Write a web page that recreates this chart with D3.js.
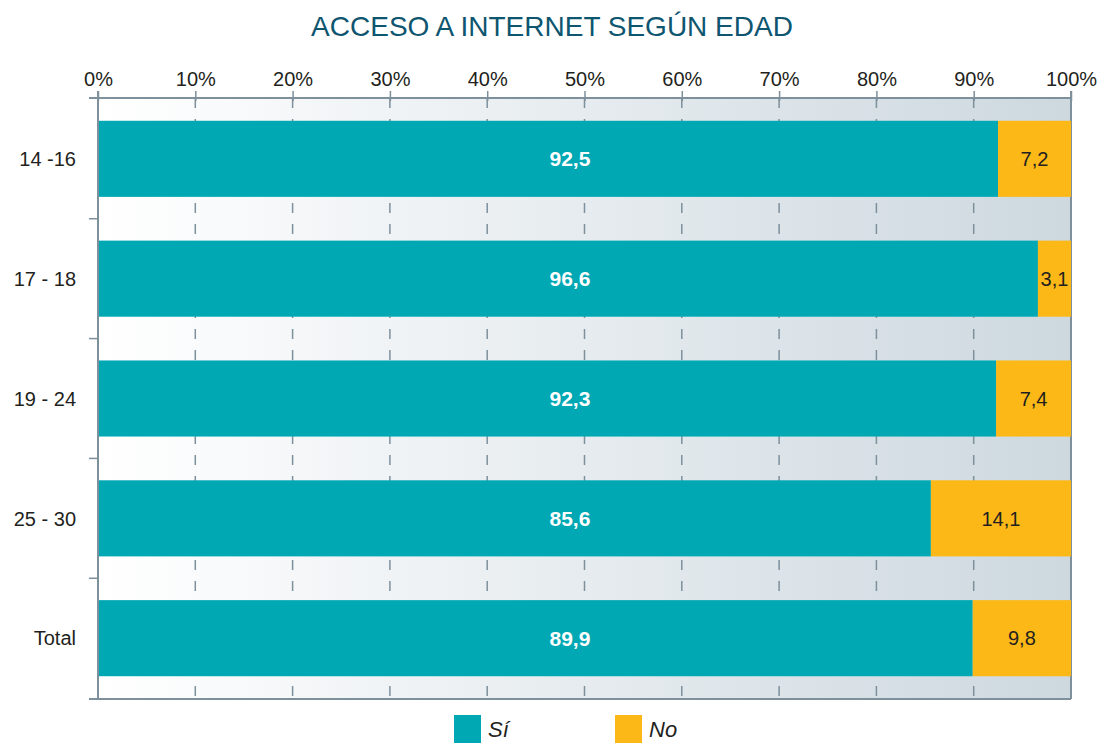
<!DOCTYPE html>
<html>
<head>
<meta charset="utf-8">
<script src="https://cdn.jsdelivr.net/npm/d3@7"></script>
<style>
  html, body { margin: 0; padding: 0; background: #fff; }
  svg text { font-family: "Liberation Sans", Arial, sans-serif; }
</style>
</head>
<body>
<div id="chart"></div>
<script>
// Chart data
const categories = ['14 -16', '17 - 18', '19 - 24', '25 - 30', 'Total'];
const siValues = [92.5, 96.6, 92.3, 85.6, 89.9];
const noValues = [7.2, 3.1, 7.4, 14.1, 9.8];
const tickValues = [0, 10, 20, 30, 40, 50, 60, 70, 80, 90, 100];
const seriesNames = ['Sí', 'No'];

const colors = { si: '#00a8b4', no: '#fbb817', axis: '#7e909c', title: '#0e5670', text: '#231f20' };

const width = 1099, height = 743;
const margin = { top: 98, right: 28, bottom: 44, left: 98 };

const svg = d3.select('#chart').append('svg')
    .attr('width', width)
    .attr('height', height);

// Background gradient behind the plot
const defs = svg.append('defs');
const grad = defs.append('linearGradient')
    .attr('id', 'bg-grad')
    .attr('x1', '0%').attr('x2', '100%')
    .attr('y1', '0%').attr('y2', '0%');
grad.append('stop').attr('offset', '0%').attr('stop-color', '#ffffff');
grad.append('stop').attr('offset', '100%').attr('stop-color', '#cdd8df');

const x = d3.scaleLinear()
    .domain([0, 100])
    .range([margin.left, width - margin.right]);

const y = d3.scaleBand()
    .domain(categories)
    .range([margin.top, height - margin.bottom])
    .paddingInner(0.365)
    .paddingOuter(0.19);

svg.append('rect')
    .attr('x', x(0))
    .attr('y', margin.top)
    .attr('width', x(100) - x(0))
    .attr('height', height - margin.bottom - margin.top)
    .attr('fill', 'url(#bg-grad)');

// Title
svg.append('text')
    .attr('x', 552)
    .attr('y', 36)
    .attr('text-anchor', 'middle')
    .attr('fill', colors.title)
    .style('font-size', '28px')
    .text('ACCESO A INTERNET SEGÚN EDAD');

// Dashed gridlines
svg.append('g')
    .selectAll('line')
    .data(tickValues.slice(1, -1))
    .join('line')
    .attr('x1', d => x(d)).attr('x2', d => x(d))
    .attr('y1', margin.top)
    .attr('y2', height - margin.bottom)
    .attr('stroke', colors.axis)
    .attr('stroke-width', 1.5)
    .attr('stroke-dasharray', '10,11');

// Top axis
const xAxis = svg.append('g')
    .attr('transform', `translate(0,${margin.top})`)
    .call(d3.axisTop(x)
        .tickValues(tickValues)
        .tickFormat(d => d + '%')
        .tickSize(7)
        .tickSizeOuter(0));
xAxis.select('.domain').remove();
xAxis.selectAll('.tick line')
    .attr('stroke', colors.axis)
    .attr('stroke-width', 1.5)
    .attr('y2', 3)
    .attr('y1', -7);
xAxis.selectAll('.tick text')
    .attr('fill', colors.text)
    .attr('y', -12)
    .style('font-size', '20px')
    .style('font-family', '"Liberation Sans", Arial, sans-serif');

// Horizontal axis lines (top and bottom)
[margin.top, height - margin.bottom].forEach(yy => {
    svg.append('line')
        .attr('x1', x(0) - 9).attr('x2', x(100))
        .attr('y1', yy).attr('y2', yy)
        .attr('stroke', colors.axis)
        .attr('stroke-width', 2);
});

// Right border
svg.append('line')
    .attr('x1', x(100)).attr('x2', x(100))
    .attr('y1', margin.top - 7).attr('y2', height - margin.bottom)
    .attr('stroke', colors.axis)
    .attr('stroke-width', 2);

// Category ticks on the left, between bands
const boundaries = categories.slice(1).map(c => y(c) - y.step() * y.paddingInner() / 2);
svg.append('g')
    .selectAll('line')
    .data(boundaries)
    .join('line')
    .attr('x1', x(0) - 9).attr('x2', x(0))
    .attr('y1', d => d).attr('y2', d => d)
    .attr('stroke', colors.axis)
    .attr('stroke-width', 1.5);

// Bars
const rows = categories.map((c, i) => ({ cat: c, si: siValues[i], no: noValues[i] }));

const bars = svg.append('g')
    .selectAll('g')
    .data(rows)
    .join('g');

bars.append('rect')
    .attr('x', x(0))
    .attr('y', d => y(d.cat))
    .attr('width', d => x(d.si) - x(0))
    .attr('height', y.bandwidth())
    .attr('fill', colors.si);

bars.append('rect')
    .attr('x', d => x(d.si))
    .attr('y', d => y(d.cat))
    .attr('width', d => x(100) - x(d.si))
    .attr('height', y.bandwidth())
    .attr('fill', colors.no);

const fmt = v => v.toFixed(1).replace('.', ',');

bars.append('text')
    .attr('x', x(48.5))
    .attr('y', d => y(d.cat) + y.bandwidth() / 2)
    .attr('dy', '0.36em')
    .attr('text-anchor', 'middle')
    .attr('fill', '#fff')
    .style('font-size', '21px')
    .style('font-weight', 'bold')
    .text(d => fmt(d.si));

bars.append('text')
    .attr('x', d => (x(d.si) + x(100)) / 2)
    .attr('y', d => y(d.cat) + y.bandwidth() / 2)
    .attr('dy', '0.36em')
    .attr('text-anchor', 'middle')
    .attr('fill', colors.text)
    .style('font-size', '20px')
    .text(d => fmt(d.no));

// Left axis line
svg.append('line')
    .attr('x1', x(0)).attr('x2', x(0))
    .attr('y1', margin.top - 7).attr('y2', height - margin.bottom)
    .attr('stroke', colors.axis)
    .attr('stroke-width', 2);

// Category labels
svg.append('g')
    .selectAll('text')
    .data(categories)
    .join('text')
    .attr('x', 76)
    .attr('y', d => y(d) + y.bandwidth() / 2)
    .attr('dy', '0.36em')
    .attr('text-anchor', 'end')
    .attr('fill', colors.text)
    .style('font-size', '20px')
    .text(d => d);

// Legend
const legend = svg.append('g')
    .selectAll('g')
    .data(seriesNames)
    .join('g')
    .attr('transform', (d, i) => `translate(${454 + i * 161},715)`);

legend.append('rect')
    .attr('width', 27)
    .attr('height', 28)
    .attr('fill', (d, i) => i === 0 ? colors.si : colors.no);

legend.append('text')
    .attr('x', 34)
    .attr('y', 22)
    .attr('fill', colors.text)
    .style('font-size', '22px')
    .style('font-style', 'italic')
    .text(d => d);
</script>
</body>
</html>
